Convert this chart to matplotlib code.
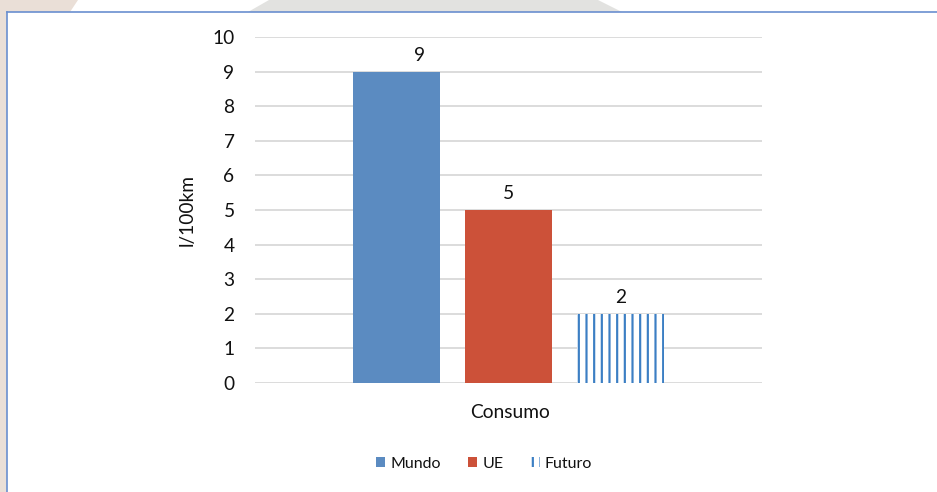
import matplotlib
matplotlib.use("Agg")
import matplotlib.pyplot as plt
from matplotlib.patches import Polygon, Rectangle
from matplotlib.lines import Line2D

# Data
categories = ["Consumo"]
series_names = ["Mundo", "UE", "Futuro"]
series_values = [9, 5, 2]
y_ticks = [0, 1, 2, 3, 4, 5, 6, 7, 8, 9, 10]
y_label = "l/100km"

colors = ["#5B8BC1", "#CC5139", "#3C7FC4"]
label_shift = [0.045, 0.0, 0.0]

DPI = 92
W, H = 937, 492
plt.rcParams["font.family"] = ["Lato", "DejaVu Sans"]
plt.rcParams["hatch.linewidth"] = 1.7
plt.rcParams["text.color"] = "#111111"

fig = plt.figure(figsize=(W / DPI, H / DPI), dpi=DPI)
fig.patch.set_facecolor("white")

# Page decorations behind the chart frame
def fx(px):
    return px / W

def fy(py):
    return 1 - py / H

fig.patches.append(Rectangle((0, 0), fx(7), 1, transform=fig.transFigure,
                             facecolor="#EADFD7", edgecolor="none", zorder=0))
fig.patches.append(Polygon([(0, fy(0)), (fx(78), fy(0)), (fx(70), fy(12)), (0, fy(12))],
                           closed=True, transform=fig.transFigure,
                           facecolor="#EADFD7", edgecolor="none", zorder=0))
fig.patches.append(Polygon([(fx(269), fy(0)), (fx(598), fy(0)), (fx(622), fy(12)), (fx(248), fy(12))],
                           closed=True, transform=fig.transFigure,
                           facecolor="#E2E2E0", edgecolor="none", zorder=0))
# Chart frame border (left and top)
fig.lines.append(Line2D([fx(7), fx(7)], [0, fy(12)], transform=fig.transFigure,
                        color="#6A8FCF", linewidth=1.3))
fig.lines.append(Line2D([fx(7), 1], [fy(12), fy(12)], transform=fig.transFigure,
                        color="#6A8FCF", linewidth=1.3))

ax = fig.add_axes([255 / W, 1 - 383 / H, (762 - 255) / W, (383 - 37) / H])
ax.set_facecolor("none")

bar_w = 87 / 507
step = 112 / 507
offsets = [-step, 0, step]

handles = []
for i, (name, val) in enumerate(zip(series_names, series_values)):
    x = 0 + offsets[i]
    if name == "Futuro":
        b = ax.bar(x, val, width=bar_w, facecolor="white", edgecolor=colors[i],
                   linewidth=0, hatch="||", zorder=3, label=name)
    else:
        b = ax.bar(x, val, width=bar_w, color=colors[i], zorder=3, label=name)
    handles.append(b)
    ax.text(x + label_shift[i], val + 0.22, str(val), ha="center", va="bottom",
            fontsize=15, color="#111111")

ax.set_xlim(-0.5, 0.5)
ax.set_ylim(0, 10)
ax.set_yticks(y_ticks)
ax.set_yticklabels([str(t) for t in y_ticks], fontsize=15, color="#111111")
ax.set_xticks([0])
ax.set_xticklabels([""])
ax.tick_params(axis="both", length=0, pad=16)
ax.grid(axis="y", color="#D9D9D9", linewidth=1.4, zorder=0)
for s in ax.spines.values():
    s.set_visible(False)

ax.set_ylabel(y_label, fontsize=15, labelpad=13, color="#111111")
fig.text(510 / W, 1 - 413 / H, categories[0], ha="center", va="center", fontsize=15)

leg = fig.legend(handles=handles, labels=series_names, loc="center",
                 bbox_to_anchor=(484 / W, 1 - 464 / H), ncol=3, frameon=False,
                 fontsize=12.5, handlelength=0.6, handleheight=0.6,
                 handletextpad=0.3, columnspacing=1.7)

fig.savefig("out.png", dpi=DPI, facecolor=fig.get_facecolor())
